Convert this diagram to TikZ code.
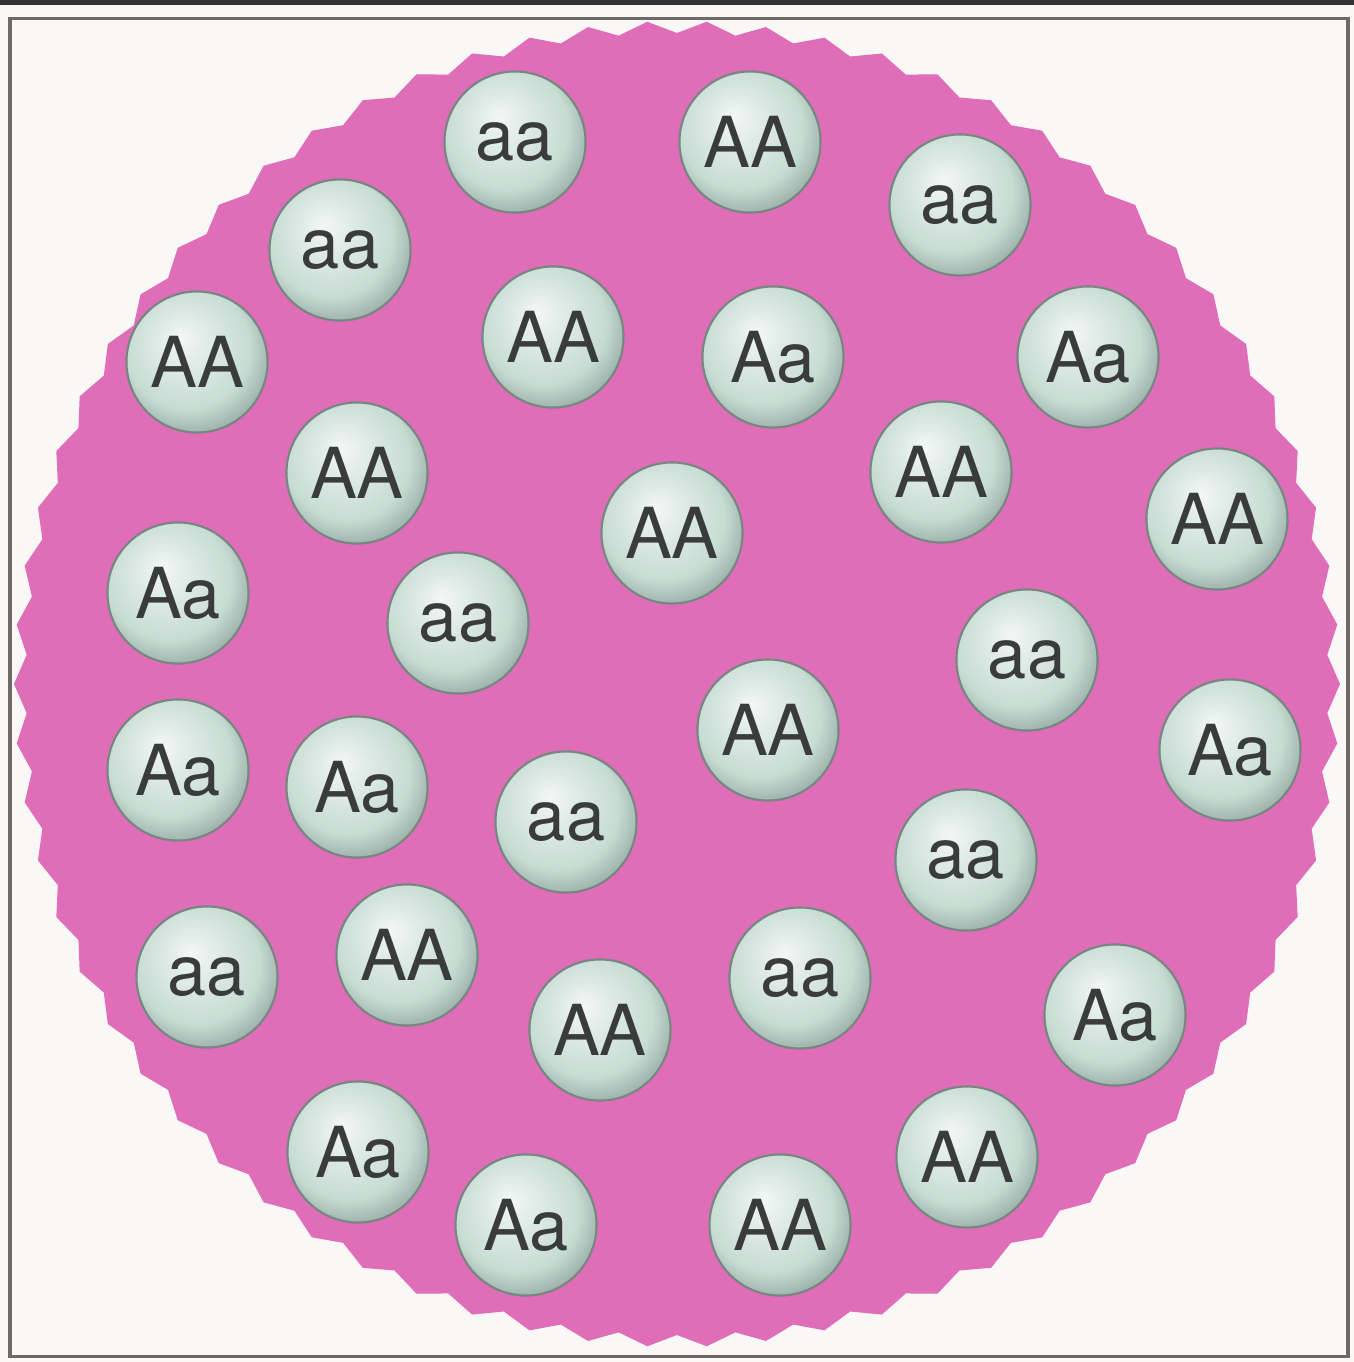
\documentclass[tikz,border=0pt]{standalone}
\usepackage{fontspec}
\setmainfont{TeX Gyre Heros}
\usepackage{tikz}
\usetikzlibrary{calc}
\usepackage{xcolor}
\definecolor{paper}{HTML}{FAF8F6}
\definecolor{framegray}{HTML}{6E6868}
\definecolor{strip}{HTML}{333333}
\definecolor{rosepink}{HTML}{E06DB8}
\definecolor{pearlhi}{HTML}{F4F7F6}
\definecolor{pearlmid}{HTML}{C6DCD3}
\definecolor{pearlrim}{HTML}{93A8A0}
\definecolor{inkgray}{HTML}{3A3C3C}

\pgfdeclareradialshading{pearl}{\pgfpoint{-6bp}{9bp}}{%
  color(0bp)=(pearlhi); color(9bp)=(pearlhi!55!pearlmid);
  color(22bp)=(pearlmid); color(31bp)=(pearlrim); color(50bp)=(pearlrim)}

\begin{document}
\begin{tikzpicture}[
  x=0.01cm, y=-0.01cm,
  font=\fontsize{20}{24}\selectfont,
  ball/.style={circle, minimum size=1.41cm, inner sep=0pt, shading=pearl,
    draw=pearlrim!80!black, line width=0.6pt, text=inkgray},
]
\useasboundingbox (0,0) rectangle (1354,1362);
\fill[paper] (0,0) rectangle (1354,1362);
\fill[strip] (0,0) rectangle (1354,5);
\draw[framegray, line width=0.03cm] (10,18) rectangle (1348,1356);

% wavy cell
\coordinate (mid) at (677,684);
\fill[rosepink] ($(mid)+(0:663)$)
  \foreach \i in {1,...,139} { -- ($(mid)+({\i/7*18}:{657+6*(1-2*mod(\i,2))})$) } -- cycle;

% genotypes
\node[ball] (c1) at (515,142) {aa};
\node[ball] (c2) at (750,142) {AA};
\node[ball] (c3) at (960,205) {aa};
\node[ball] (c4) at (340,250) {aa};
\node[ball] (c5) at (197,362) {AA};
\node[ball] (c6) at (553,337) {AA};
\node[ball] (c7) at (773,357) {Aa};
\node[ball] (c8) at (1088,357) {Aa};
\node[ball] (c9) at (357,473) {AA};
\node[ball] (c10) at (941,472) {AA};
\node[ball] (c11) at (672,533) {AA};
\node[ball] (c12) at (1217,519) {AA};
\node[ball] (c13) at (178,593) {Aa};
\node[ball] (c14) at (458,623) {aa};
\node[ball] (c15) at (1027,660) {aa};
\node[ball] (c16) at (768,730) {AA};
\node[ball] (c17) at (1230,750) {Aa};
\node[ball] (c18) at (178,770) {Aa};
\node[ball] (c19) at (357,787) {Aa};
\node[ball] (c20) at (566,822) {aa};
\node[ball] (c21) at (966,860) {aa};
\node[ball] (c22) at (207,977) {aa};
\node[ball] (c23) at (407,955) {AA};
\node[ball] (c24) at (600,1030) {AA};
\node[ball] (c25) at (800,978) {aa};
\node[ball] (c26) at (1115,1015) {Aa};
\node[ball] (c27) at (358,1152) {Aa};
\node[ball] (c28) at (967,1157) {AA};
\node[ball] (c29) at (526,1225) {Aa};
\node[ball] (c30) at (780,1225) {AA};

\end{tikzpicture}
\end{document}
